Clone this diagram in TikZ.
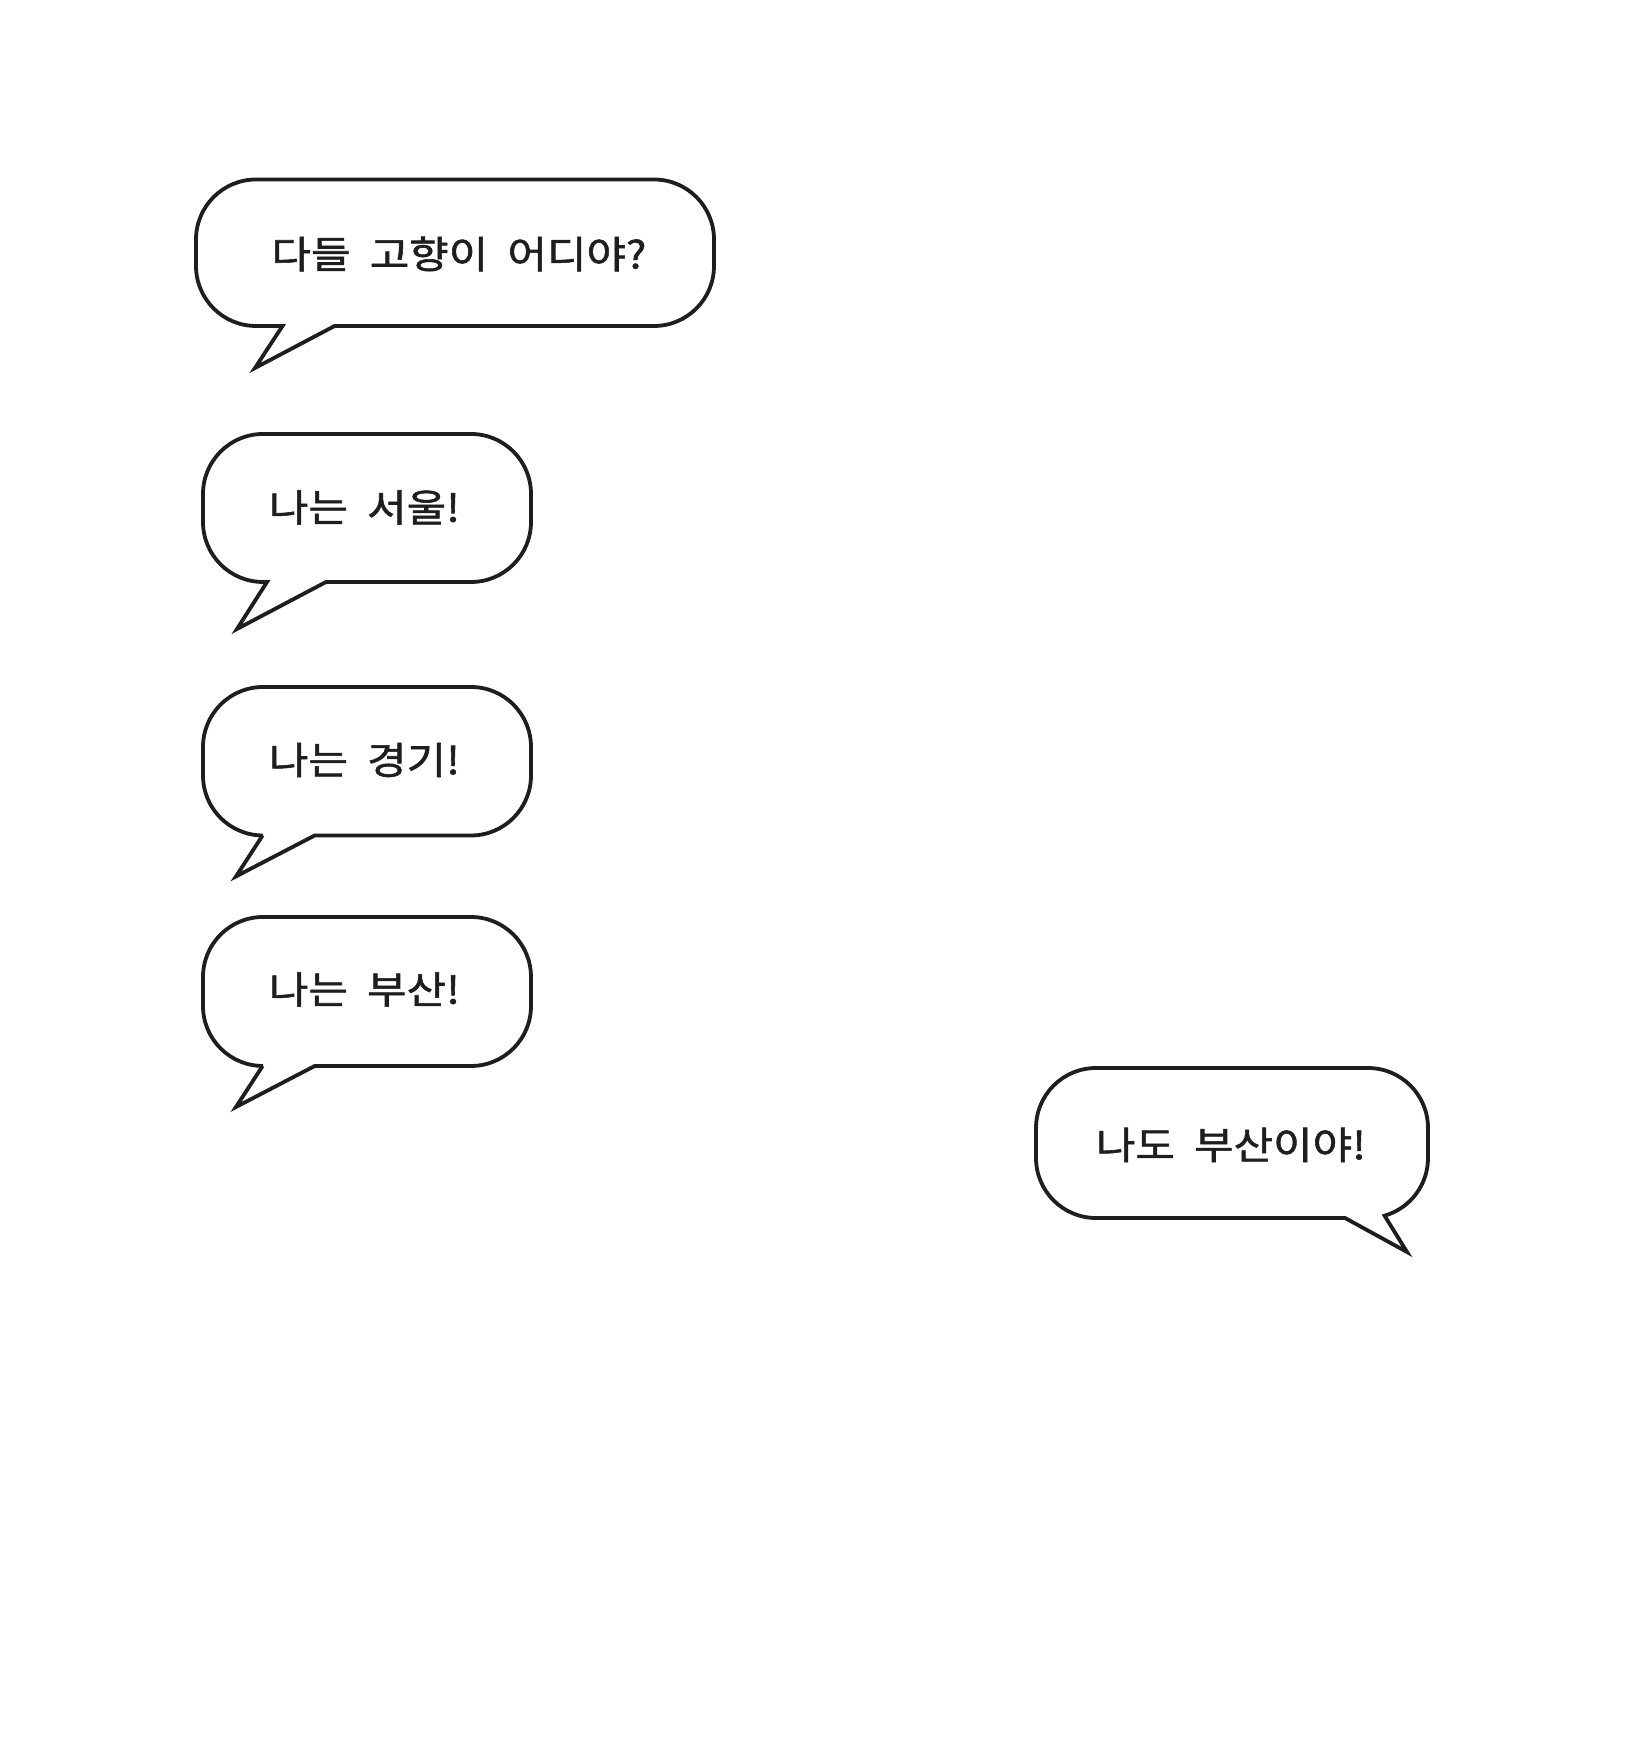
\documentclass[tikz,border=0pt]{standalone}
\usepackage{fontspec}
\setmainfont{Noto Sans CJK KR}[WordSpace=2.0,FakeStretch=1.13,FakeBold=1.5]
\definecolor{ink}{HTML}{1E1E1E}
\begin{document}
\begin{tikzpicture}[x=1pt,y=1pt,
  bubble/.style={draw=ink,line width=3.8pt,fill=white},
  txt/.style={text=ink,font=\fontsize{38}{40}\selectfont,inner sep=0pt}]
\useasboundingbox (0,0) rectangle (1632,1738);
% bubble 1
\draw[bubble] (334.6,1412) -- (654,1412) arc[start angle=-90,end angle=0,radius=60pt]
  -- (714,1498.5) arc[start angle=0,end angle=90,radius=60pt]
  -- (256,1558.5) arc[start angle=90,end angle=180,radius=60pt]
  -- (196,1472) arc[start angle=180,end angle=270,radius=60pt]
  -- (282.5,1412) -- (255,1370) -- cycle;
\node[txt] (t1) at (459,1484) {다들 고향이 어디야?};
% bubble 2
\draw[bubble] (326,1156) -- (471,1156) arc[start angle=-90,end angle=0,radius=60pt]
  -- (531,1244) arc[start angle=0,end angle=90,radius=60pt]
  -- (263,1304) arc[start angle=90,end angle=180,radius=60pt]
  -- (203,1216) arc[start angle=180,end angle=270,radius=60pt]
  -- (267,1156) -- (237,1109) -- cycle;
\node[txt] (t2) at (364.5,1230.5) {나는 서울!};
% bubble 3
\draw[bubble] (314.7,902.5) -- (471,902.5) arc[start angle=-90,end angle=0,radius=60pt]
  -- (531,991) arc[start angle=0,end angle=90,radius=60pt]
  -- (263,1051) arc[start angle=90,end angle=180,radius=60pt]
  -- (203,962.5) arc[start angle=180,end angle=270,radius=60pt]
  -- (262.6,902.5) -- (236,861.6) -- cycle;
\node[txt] (t3) at (364.5,978) {나는 경기!};
% bubble 4
\draw[bubble] (314.7,672) -- (471,672) arc[start angle=-90,end angle=0,radius=60pt]
  -- (531,761) arc[start angle=0,end angle=90,radius=60pt]
  -- (263,821) arc[start angle=90,end angle=180,radius=60pt]
  -- (203,732) arc[start angle=180,end angle=270,radius=60pt]
  -- (262.6,672) -- (236,631) -- cycle;
\node[txt] (t4) at (364.5,748.5) {나는 부산!};
% bubble 5
\draw[bubble] (1345,520) -- (1096,520) arc[start angle=270,end angle=180,radius=60pt]
  -- (1036,610) arc[start angle=180,end angle=90,radius=60pt]
  -- (1368,670) arc[start angle=90,end angle=0,radius=60pt]
  -- (1428,580) arc[start angle=0,end angle=-74,radius=60pt]
  -- (1407,486) -- cycle;
\node[txt] (t5) at (1231,593) {나도 부산이야!};
\end{tikzpicture}
\end{document}
